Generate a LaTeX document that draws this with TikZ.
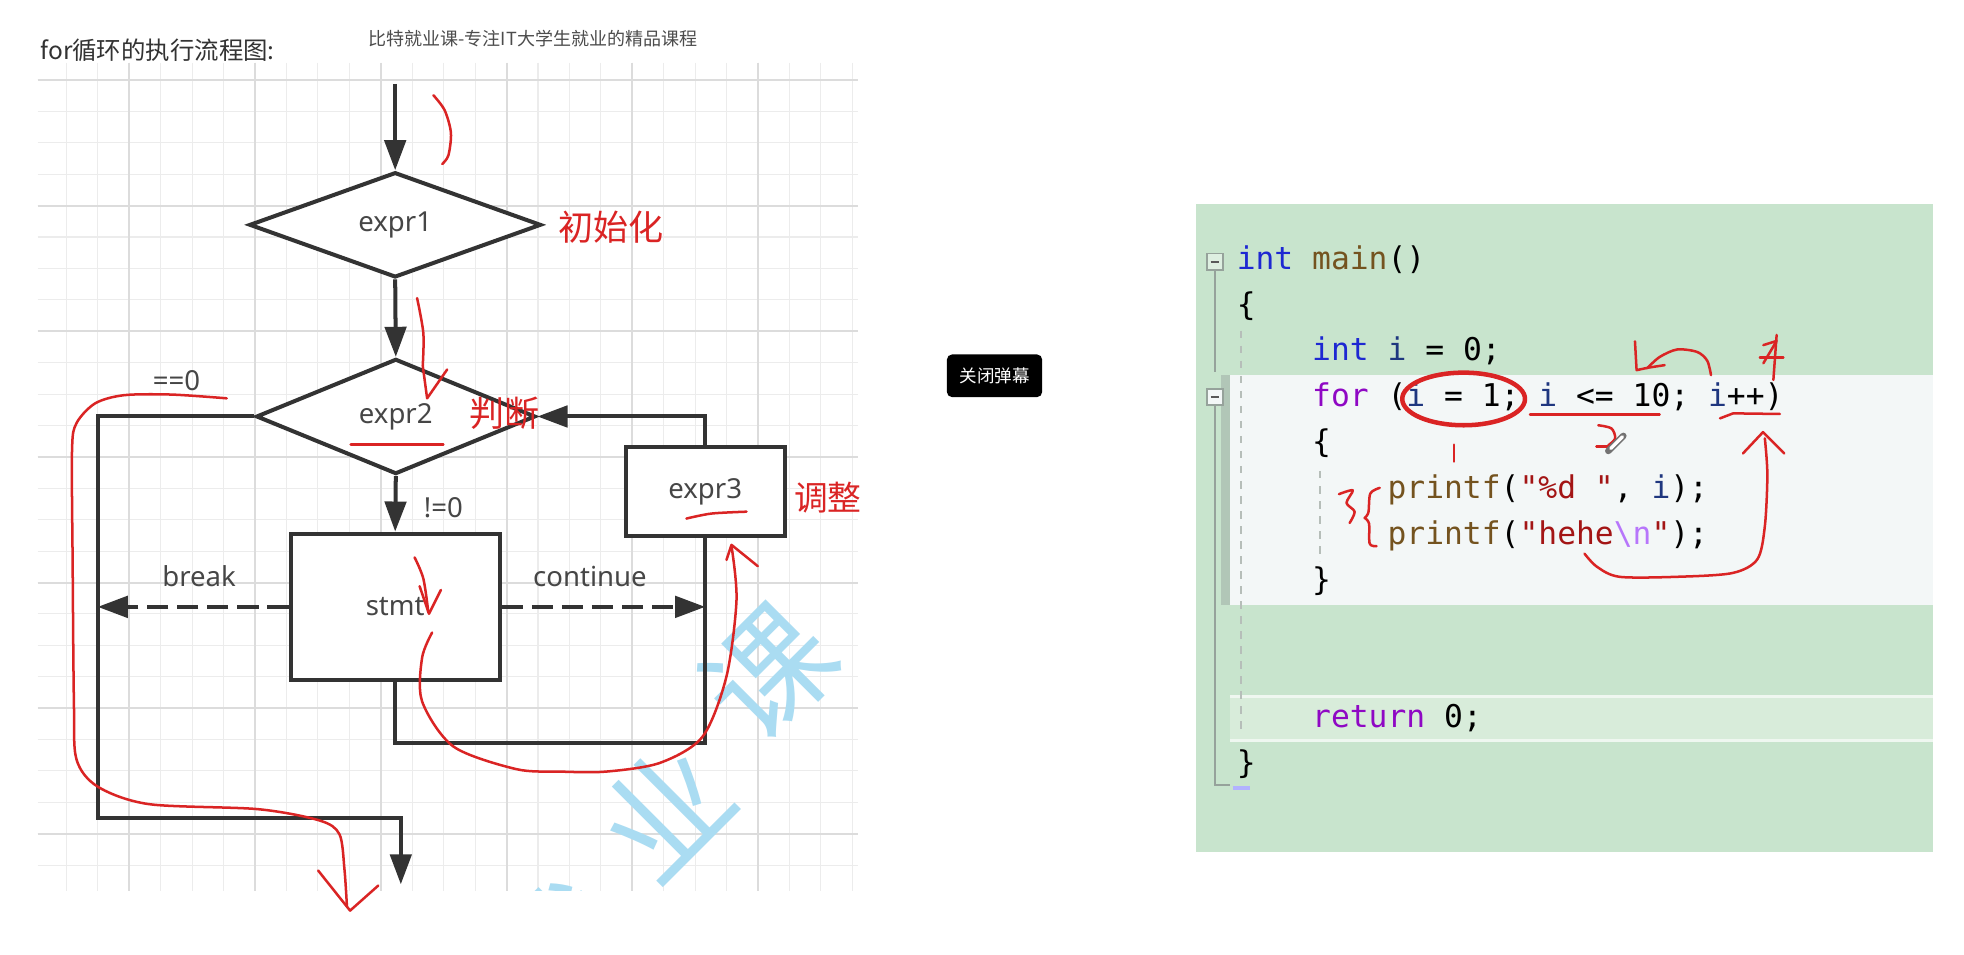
\documentclass[tikz,border=0pt]{standalone}
\usepackage{fontspec}
\newfontfamily\cjk{Noto Sans CJK SC}
\newfontfamily\lab{Noto Sans}
\newfontfamily\codefont[Ligatures=TeXOff]{DejaVu Sans Mono}
\usetikzlibrary{shapes.geometric,arrows.meta}
\definecolor{lineg}{RGB}{51,51,51}
\definecolor{txtg}{RGB}{70,70,70}
\definecolor{ink}{RGB}{218,36,36}
\definecolor{gridminor}{RGB}{236,236,236}
\definecolor{gridmajor}{RGB}{220,220,220}
\definecolor{wmblue}{RGB}{170,220,242}
\definecolor{panel}{RGB}{200,228,205}
\definecolor{band}{RGB}{243,247,247}
\definecolor{retband}{RGB}{216,236,218}
\definecolor{kwblue}{RGB}{30,40,210}
\definecolor{fnbrown}{RGB}{116,83,31}
\definecolor{kwpurple}{RGB}{143,8,196}
\definecolor{varblue}{RGB}{31,55,127}
\definecolor{strred}{RGB}{163,21,21}
\definecolor{escp}{RGB}{183,118,251}
\definecolor{gutter}{RGB}{150,162,155}
\newcommand\ckw[1]{\textcolor{kwblue}{#1}}
\newcommand\cfn[1]{\textcolor{fnbrown}{#1}}
\newcommand\ckp[1]{\textcolor{kwpurple}{#1}}
\newcommand\cvr[1]{\textcolor{varblue}{#1}}
\newcommand\cst[1]{\textcolor{strred}{#1}}
\newcommand\ces[1]{\textcolor{escp}{#1}}
\begin{document}
\begin{tikzpicture}[x=0.5pt,y=-0.5pt,
  fl/.style={line width=1.6pt, draw=lineg},
  arr/.style={fl, -{Triangle[length=12pt,width=8.5pt]}},
  dasharr/.style={arr, dash pattern=on 8.5pt off 3.5pt},
  dia/.style={diamond, draw=lineg, line width=1.6pt, fill=white, inner sep=0pt, aspect=2.7, text=txtg, font=\lab\fontsize{11pt}{13pt}\selectfont},
  box/.style={rectangle, draw=lineg, line width=1.6pt, fill=white, inner sep=0pt, text=txtg, font=\lab\fontsize{11pt}{13pt}\selectfont},
  lbl/.style={text=txtg, inner sep=0pt, font=\lab\fontsize{11pt}{13pt}\selectfont},
  redlbl/.style={text=ink, inner sep=0pt, font=\cjk\fontsize{14pt}{16pt}\selectfont},
  hand/.style={draw=ink, line width=1pt, line cap=round, line join=round},
  wm/.style={text=wmblue, inner sep=0pt, font=\cjk\fontsize{50pt}{50pt}\selectfont},
  code/.style={anchor=base west, inner sep=0pt, text=black, font=\codefont\fontsize{12.5pt}{15pt}\selectfont},
  gmin/.style={draw=gridminor, line width=0.45pt},
  gmaj/.style={draw=gridmajor, line width=0.8pt}
]
\useasboundingbox (0,0) rectangle (1568,762);
\fill[white] (0,0) rectangle (1568,762);

% ---------- grid and watermark ----------
\begin{scope}
\clip (30,50) rectangle (685,711);
\foreach \k in {1,...,26} {\pgfmathsetmacro\xx{27.9+25.1*\k}\draw[gmin] (\xx,50) -- (\xx,711);}
\foreach \k in {0,...,25} {\pgfmathsetmacro\yy{63.9+25.07*\k}\draw[gmin] (30,\yy) -- (685,\yy);}
\foreach \xx in {103.2,203.6,304,404.4,504.8,605.2} {\draw[gmaj] (\xx,50) -- (\xx,711);}
\foreach \yy in {63.9,164.2,264.5,364.8,465.1,565.4,665.7} {\draw[gmaj] (30,\yy) -- (685,\yy);}
\node[wm, rotate=45] (wm1) at (614,537) {课};
\node[wm, rotate=45] (wm2) at (530,647) {业};
\node[wm, rotate=45] (wm3) at (446,757) {就};
\end{scope}

% ---------- titles ----------
\node[anchor=west, inner sep=0pt, text=lineg, font=\cjk\fontsize{9.75pt}{11pt}\selectfont] (title) at (32,40) {for循环的执行流程图:};
\node[inner sep=0pt, text=black!70, font=\cjk\fontsize{7.2pt}{9pt}\selectfont] (hdr) at (425.5,30.6) {比特就业课-专注IT大学生就业的精品课程};

% ---------- flowchart ----------
\node[dia, minimum width=116.5pt, minimum height=42pt] (d1) at (315.5,179.5) {expr1};
\node[dia, minimum width=111.5pt, minimum height=46pt] (d2) at (316,332.5) {expr2};
\node[box, minimum width=83.5pt, minimum height=58.5pt] (stmt) at (315.5,484.5) {stmt};
\node[box, minimum width=63.5pt, minimum height=35.5pt] (e3) at (563,392.5) {expr3};

\coordinate (top) at (315.5,67);
\coordinate (lt) at (78,332.5);
\coordinate (lb) at (78,653);
\coordinate (out) at (320,706);
\coordinate (lp) at (315.5,593);

\draw[arr] (top) -- (d1.north);
\draw[arr] (d1.south) -- (d2.north);
\draw[arr] (d2.south) -- (stmt.north);
\draw[arr, line join=miter] (d2.west) -- (lt) -- (lb) -| (out);
\draw[dasharr] (stmt.west) -- (stmt.west -| lt);
\draw[dasharr] (stmt.east) -- (stmt.east -| e3.south);
\draw[fl, line join=miter] (stmt.south) -- (lp) -| (e3.south);
\draw[arr, line join=miter] (e3.north) |- (d2.east);

\node[lbl] (eq0) at (141,304) {==0};
\node[lbl] (ne0) at (354,405) {!=0};
\node[lbl] (brk) at (159,460) {break};
\node[lbl] (cnt) at (471,460) {continue};

\node[redlbl] (init) at (488,181) {初始化};
\node[redlbl] (judge) at (403,330) {判断};
\node[redlbl, font=\cjk\fontsize{13.5pt}{15pt}\selectfont] (adj) at (661,397) {调整};

% ---------- red hand strokes on flowchart ----------
\draw[hand] plot[smooth] coordinates {(346,76) (355,88) (360,106) (358,124) (353,131)};
\draw[hand] plot[smooth] coordinates {(333,238) (338,266) (337.5,292)} -- (341,318) -- (357,295);
\draw[hand] (280,355) -- (354,355);
\draw[hand] plot[smooth] coordinates {(181,318) (137,315) (99,315.5) (76,322) (61,338) (57.5,360) (58,450) (59,560) (61,606) (78,628) (119,642) (206,646) (255,655) (271,666) (275,694) (277,724)};
\draw[hand] (254,695) -- (279.5,727) -- (302,707);
\draw[hand] plot[smooth] coordinates {(331,445) (338,462) (342,489)};
\draw[hand] (335,468) -- (342.5,490) -- (352,471);
\draw[hand] plot[smooth] coordinates {(345,505) (337,525) (337,560) (362,596) (412,614) (447,616) (484,616) (527,609) (561,588) (580,540) (588,479) (584,436)};
\draw[hand] (580,447) -- (584,435) -- (605,452);
\draw[hand] plot[smooth] coordinates {(548,414) (568,410) (596,408.5)};

% ---------- button ----------
\node[fill=black, rounded corners=2pt, minimum width=38pt, minimum height=17pt, inner sep=0pt, text=white, font=\cjk\fontsize{7pt}{8pt}\selectfont] (btn) at (794,300) {关闭弹幕};

% ---------- code panel ----------
\fill[panel] (955,163) rectangle (1543,680);
\fill[band] (982,299) rectangle (1543,483);
\fill[gutter!45!panel] (975,299) rectangle (982,483);
\fill[retband] (982,556) rectangle (1543,591);
\draw[white!60!retband, line width=1pt] (982,556) -- (1543,556) (982,591) -- (1543,591);
\draw[gutter!70!white, line width=0.8pt, dash pattern=on 3pt off 3pt] (991,264) -- (991,586);
\draw[gutter!70!white, line width=0.8pt, dash pattern=on 3pt off 3pt] (1054,376) -- (1054,448);
\node[draw=gutter, fill=panel!60!white, line width=0.6pt, minimum size=6.5pt, inner sep=0pt] (fold1) at (970,209) {};
\node[draw=gutter, fill=band, line width=0.6pt, minimum size=6.5pt, inner sep=0pt] (fold2) at (970,317) {};
\draw[black!65, line width=0.7pt] (966.5,209) -- (973.5,209) (966.5,317) -- (973.5,317);
\draw[gutter, line width=0.8pt] (fold1.south) -- (970,297);
\draw[gutter, line width=0.8pt] (fold2.south) -- (970,627) -- (982,627);
\draw[blue!30!white, line width=1.5pt] (984,629) -- (998,629);

\node[code] (c1) at (987,215) {\ckw{int} \cfn{main}()};
\node[code] (c2) at (987,251.6) {\{};
\node[code] (c3) at (1047.2,288.2) {\ckw{int} \cvr{i} = 0;};
\node[code] (c4) at (1047.2,324.8) {\ckp{for} (\cvr{i} = 1; \cvr{i} <= 10; \cvr{i}++)};
\node[code] (c5) at (1047.2,361.4) {\{};
\node[code] (c6) at (1107.4,398) {\cfn{printf}(\cst{"\%d "}, \cvr{i});};
\node[code] (c7) at (1107.4,434.6) {\cfn{printf}(\cst{"hehe}\ces{\textbackslash n}\cst{"});};
\node[code] (c8) at (1047.2,471.2) {\}};
\node[code] (c9) at (1047.2,581) {\ckp{return} 0;};
\node[code] (c10) at (987,617.6) {\}};

% ---------- red hand strokes on code ----------
\draw[hand, line width=1.8pt] (1168.5,318.5) ellipse [x radius=49, y radius=21];
\draw[hand] (1161,355) -- (1161,368.5);
\draw[hand] (1221.5,331) -- (1325,331);
\draw[hand] plot[smooth] coordinates {(1276,339.5) (1286.5,342) (1289.5,350) (1284,355.5)};
\draw[hand] (1274.5,356.5) -- (1289.5,356.5);
\draw[black!55, line width=2.6pt, line cap=round] (1284,360) -- (1296,348);
\draw[white, line width=1.4pt, line cap=round] (1286,358) -- (1295.2,348.8);
\draw[hand] plot[smooth] coordinates {(1366,299.5) (1363,288) (1355,281) (1339,279) (1325,285) (1315,294)};
\draw[hand] (1305.3,272.5) -- (1306.6,295.5) -- (1316,293.5) -- (1329,291.5);
\draw[hand] (1407.8,275.5) -- (1418.4,272.2) -- (1407.8,290);
\draw[hand] (1405,285.5) -- (1423.8,285.5);
\draw[hand] (1418.4,267.4) -- (1415.8,303.3);
\draw[hand] (1373.2,334) -- (1383.7,330) -- (1421,330.5);
\draw[hand] plot[smooth] coordinates {(1265,442) (1275,452.5) (1293,460.5) (1338.5,460.5) (1383,457.5) (1403,446.5) (1409,420) (1411,379) (1409,350)};
\draw[hand] (1391.5,362) -- (1407.5,345) -- (1424.5,362);
\draw[hand] plot[smooth] coordinates {(1069,394.5) (1080,391.5) (1075,401.5) (1081.5,408.5) (1077.5,417.5)};
\draw[hand] plot[smooth] coordinates {(1101.5,389.5) (1094,394) (1092.5,409) (1089.5,413.5)};
\draw[hand] plot[smooth] coordinates {(1089.5,413.5) (1093,418) (1093.5,434) (1099,436)};
\end{tikzpicture}
\end{document}
